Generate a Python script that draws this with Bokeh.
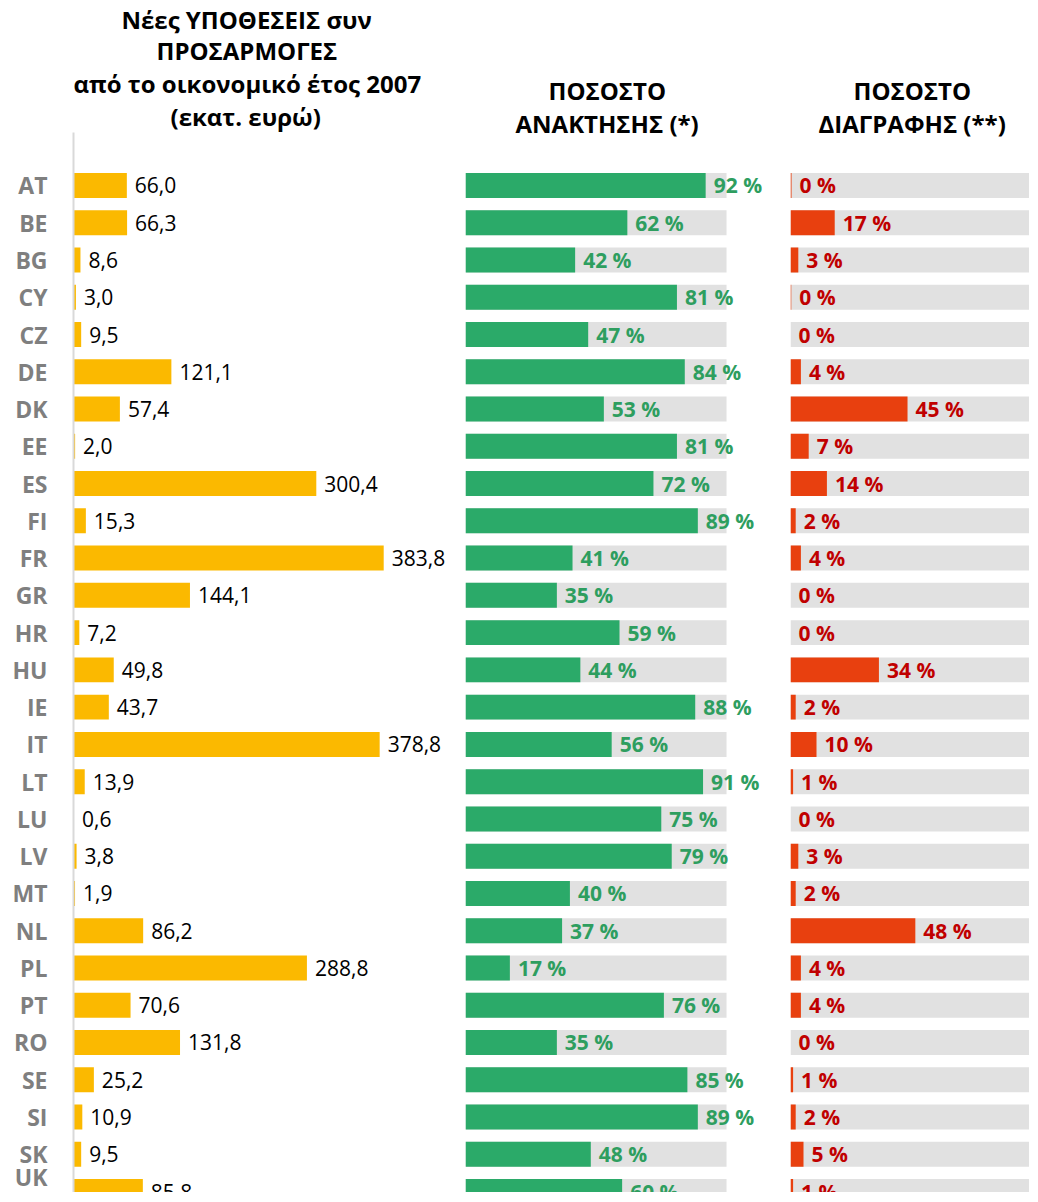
from bokeh.plotting import figure
from bokeh.layouts import row
from bokeh.models import Range1d, FixedTicker, ColumnDataSource, Title
from bokeh.core.properties import value
from bokeh.embed import file_html
from bokeh.resources import INLINE

countries = ["AT", "BE", "BG", "CY", "CZ", "DE", "DK", "EE", "ES", "FI", "FR", "GR", "HR", "HU",
             "IE", "IT", "LT", "LU", "LV", "MT", "NL", "PL", "PT", "RO", "SE", "SI", "SK", "UK"]
new_cases = [66.0, 66.3, 8.6, 3.0, 9.5, 121.1, 57.4, 2.0, 300.4, 15.3, 383.8, 144.1, 7.2, 49.8,
             43.7, 378.8, 13.9, 0.6, 3.8, 1.9, 86.2, 288.8, 70.6, 131.8, 25.2, 10.9, 9.5, 85.8]
recovery = [92, 62, 42, 81, 47, 84, 53, 81, 72, 89, 41, 35, 59, 44,
            88, 56, 91, 75, 79, 40, 37, 17, 76, 35, 85, 89, 48, 60]
writeoff = [0.4, 17, 3, 0.3, 0, 4, 45, 7, 14, 2, 4, 0, 0, 34,
            2, 10, 1, 0, 3, 2, 48, 4, 4, 0, 1, 2, 5, 1]

title1 = ["Νέες ΥΠΟΘΕΣΕΙΣ συν", "ΠΡΟΣΑΡΜΟΓΕΣ", "από το οικονομικό έτος 2007", "(εκατ. ευρώ)"]
title2 = ["ΠΟΣΟΣΤΟ", "ΑΝΑΚΤΗΣΗΣ (*)"]
title3 = ["ΠΟΣΟΣΤΟ", "ΔΙΑΓΡΑΦΗΣ (**)"]

FONT = "Open Sans"
YELLOW = "#FBB900"
GREEN = "#2BAA69"
GREEN_TXT = "#2E9E5F"
RED = "#E8400F"
RED_TXT = "#C00000"
BG = "#E1E1E1"

ys = list(range(len(countries)))
src = ColumnDataSource(dict(
    y=ys,
    cases=new_cases,
    cases_lbl=[f"{v:.1f}".replace(".", ",") for v in new_cases],
    rec=recovery,
    rec_lbl=[f"{round(v)} %" for v in recovery],
    wo=writeoff,
    wo_lbl=[f"{round(v)} %" for v in writeoff],
))

H = 1192
TOP = 132
BAR_H = 0.67


def yrange():
    return Range1d(start=27.026, end=-1.422)


def base(width, xr, left_border=0):
    p = figure(width=width, height=H, x_range=xr, y_range=yrange(),
               output_backend="svg", toolbar_location=None,
               x_axis_location=None, y_axis_location=("left" if left_border else None),
               min_border_left=left_border, min_border_right=0,
               min_border_top=TOP, min_border_bottom=0)
    p.outline_line_color = None
    p.xgrid.visible = False
    p.ygrid.visible = False
    p.background_fill_color = None
    p.border_fill_color = None
    return p


def add_title(p, lines, offsets, standoffs):
    # the first title added sits closest to the frame -> add the bottom line first
    for line, off, so in zip(reversed(lines), reversed(offsets), reversed(standoffs)):
        t = Title(text=line, align="left", offset=off, standoff=so,
                  text_font=FONT, text_font_size="24px", text_font_style="bold",
                  text_color="#000000")
        p.add_layout(t, "above")


# Panel 1
p1 = base(465, Range1d(0, 485), left_border=73)
p1.hbar(y="y", left=0, right="cases", height=BAR_H, source=src,
        fill_color=YELLOW, line_color=None)
p1.text(x="cases", y="y", text="cases_lbl", source=src, x_offset=8,
        text_baseline="middle", text_align="left", text_font=value(FONT),
        text_font_size="21px", text_color="#000000")
ax = p1.yaxis[0]
ax.ticker = FixedTicker(ticks=ys)
ax.major_label_overrides = {i: c for i, c in enumerate(countries)}
ax.major_tick_line_color = None
ax.minor_tick_line_color = None
ax.major_tick_out = 0
ax.major_tick_in = 0
ax.axis_line_color = "#D9D9D9"
ax.axis_line_width = 2
ax.major_label_standoff = 26
ax.major_label_text_font = FONT
ax.major_label_text_font_size = "23px"
ax.major_label_text_font_style = "bold"
ax.major_label_text_color = "#7F7F7F"
add_title(p1, title1, [48, 83, 0, 97], [-8, 0, -4, 0])

# Panel 2
p2 = base(325, Range1d(0, 124.5))
p2.hbar(y="y", left=0, right=100, height=BAR_H, source=src,
        fill_color=BG, line_color=None)
p2.hbar(y="y", left=0, right="rec", height=BAR_H, source=src,
        fill_color=GREEN, line_color=None)
p2.text(x="rec", y="y", text="rec_lbl", source=src, x_offset=8,
        text_baseline="middle", text_align="left", text_font=value(FONT),
        text_font_size="21px", text_font_style="bold", text_color=GREEN_TXT)
add_title(p2, title2, [83, 50], [10, -14])

# Panel 3
p3 = base(239, Range1d(0, 91.9))
p3.hbar(y="y", left=0, right=100, height=BAR_H, source=src,
        fill_color=BG, line_color=None)
p3.hbar(y="y", left=0, right="wo", height=BAR_H, source=src,
        fill_color=RED, line_color=None)
p3.text(x="wo", y="y", text="wo_lbl", source=src, x_offset=8,
        text_baseline="middle", text_align="left", text_font=value(FONT),
        text_font_size="21px", text_font_style="bold", text_color=RED_TXT)
add_title(p3, title3, [63, 28], [10, -14])

layout = row(p1, p2, p3, spacing=0)
open("out.html", "w").write(file_html(layout, INLINE))
